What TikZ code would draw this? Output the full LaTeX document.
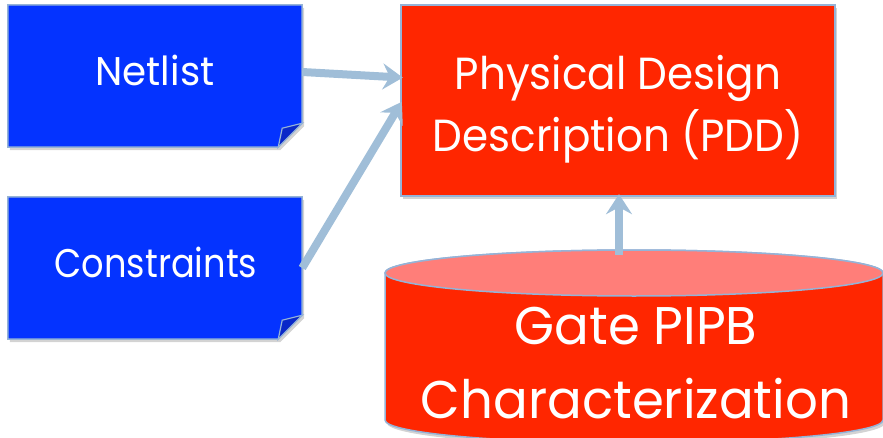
\documentclass[tikz,border=0pt]{standalone}
\usepackage{fontspec}
\setmainfont{Poppins}
\usetikzlibrary{arrows.meta,shadows}
\definecolor{boxblue}{RGB}{4,51,255}
\definecolor{flapblue}{RGB}{10,40,200}
\definecolor{boxred}{RGB}{255,38,0}
\definecolor{topred}{RGB}{255,126,121}
\definecolor{edgeblue}{RGB}{149,179,215}
\definecolor{arrowblue}{RGB}{160,190,216}
\tikzset{
  lbl/.style={text=white, align=center, inner sep=0pt},
  boxshape/.style={draw=edgeblue, line width=1.5pt, drop shadow={opacity=0.35, shadow xshift=2pt, shadow yshift=-3pt}},
  conn/.style={draw=arrowblue, line width=8pt, -{Stealth[length=20pt, width=26pt, inset=7pt]}, shorten >=-2pt}
}
\begin{document}
\begin{tikzpicture}[x=1pt,y=1pt]
\useasboundingbox (0,0) rectangle (883,437);
\clip (0,0) rectangle (883,437);
% nodes (sizes)
\node[lbl, minimum width=294pt, minimum height=142pt] (netlist) at (155,361) {};
\node[lbl, minimum width=294pt, minimum height=142pt] (constr) at (155,169) {};
\node[lbl, minimum width=434pt, minimum height=191pt] (pdd) at (618,336.5) {};
% folded boxes
\foreach \n in {netlist,constr}{
  \path[boxshape, fill=boxblue] (\n.north west) -- (\n.north east) -- ([yshift=24pt]\n.south east) -- ([xshift=-24pt]\n.south east) -- (\n.south west) -- cycle;
  \path[draw=edgeblue, line width=1.2pt, fill=flapblue] ([yshift=24pt]\n.south east) -- ([xshift=-24pt]\n.south east) -- ([xshift=-20pt,yshift=19pt]\n.south east) -- cycle;
}
\path[boxshape, fill=boxred] (pdd.north west) rectangle (pdd.south east);
% texts
\node[lbl, font=\fontsize{40}{48}\selectfont, xscale=0.97] at (155,367) {Netlist};
\node[lbl, font=\fontsize{40}{48}\selectfont, xscale=0.88] at (156,175) {Constraints};
\node[lbl, font=\fontsize{45}{62}\selectfont, xscale=0.935] at (618,328) {Physical Design\\Description (PDD)};
% cylinder
\path[boxshape, fill=boxred] (385,164) -- (385,17) arc[start angle=180, end angle=360, x radius=249pt, y radius=23pt] -- (883,164) arc[start angle=0, end angle=180, x radius=249pt, y radius=23pt] -- cycle;
\draw[draw=edgeblue, line width=1.5pt, fill=topred] (634,164) ellipse[x radius=249pt, y radius=23pt];
\node[lbl, font=\fontsize{53}{74}\selectfont, xscale=0.97] (pipb) at (636,74) {Gate PIPB\\Characterization};
\coordinate (ctop) at (619,182);
% connectors
\path[conn] ([yshift=4pt]netlist.east) -- ([yshift=23pt]pdd.west);
\path[conn] (constr.east) -- ([yshift=-3pt]pdd.west);
\path[conn] (ctop) -- (ctop |- pdd.south);
\end{tikzpicture}
\end{document}
